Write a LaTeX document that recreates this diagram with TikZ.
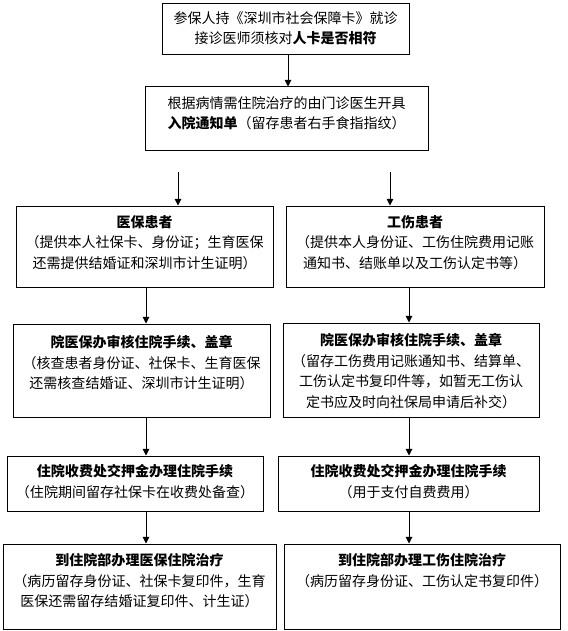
\documentclass[tikz,border=0pt]{standalone}
\usepackage{fontspec}
\setmainfont{Noto Sans CJK SC}
\usetikzlibrary{arrows.meta,fit}
\begin{document}
\begin{tikzpicture}[x=0.75pt,y=-0.75pt,
  box/.style={draw, line width=0.75pt, inner sep=0pt},
  txt/.style={font=\fontsize{10.5pt}{15.5pt}\selectfont, align=center, inner sep=0pt, anchor=north},
  arr/.style={line width=0.75pt, -{Triangle[length=5pt,width=5pt]}}
]
\useasboundingbox[fill=white] (0,0) rectangle (567,631);
% boxes
\node[box, fit={(162,4) (409,55)}] (b1) {};
\node[box, fit={(145,87) (428,151)}] (b2) {};
\node[box, fit={(16,206) (273,287)}] (b3) {};
\node[box, fit={(286,206) (544,287)}] (b4) {};
\node[box, fit={(13,324) (270,417)}] (b5) {};
\node[box, fit={(283,323) (539,417)}] (b6) {};
\node[box, fit={(7,456) (263,511)}] (b7) {};
\node[box, fit={(278,456) (539,511)}] (b8) {};
\node[box, fit={(3,544) (276,629)}] (b9) {};
\node[box, fit={(284,544) (560,629)}] (b10) {};
% texts
\node[txt] (t1) at (285.5,11) {参保人持《深圳市社会保障卡》就诊\\接诊医师须核对\textbf{人卡是否相符}};
\node[txt] (t2) at (286.5,96) {根据病情需住院治疗的由门诊医生开具\\\textbf{入院通知单}（留存患者右手食指指纹）};
\node[txt] (t3) at (144.5,215) {\textbf{医保患者}\\（提供本人社保卡、身份证；生育医保\\还需提供结婚证和深圳市计生证明）};
\node[txt] (t4) at (415,215) {\textbf{工伤患者}\\（提供本人身份证、工伤住院费用记账\\通知书、结账单以及工伤认定书等）};
\node[txt] (t5) at (141.5,335) {\textbf{院医保办审核住院手续、盖章}\\（核查患者身份证、社保卡、生育医保\\还需核查结婚证、深圳市计生证明）};
\node[txt] (t6) at (411,333) {\textbf{院医保办审核住院手续、盖章}\\（留存工伤费用记账通知书、结算单、\\工伤认定书复印件等，如暂无工伤认\\定书应及时向社保局申请后补交）};
\node[txt] (t7) at (135,464) {\textbf{住院收费处交押金办理住院手续}\\（住院期间留存社保卡在收费处备查）};
\node[txt] (t8) at (408.5,464) {\textbf{住院收费处交押金办理住院手续}\\（用于支付自费费用）};
\node[txt] (t9) at (139.5,553) {\textbf{到住院部办理医保住院治疗}\\（病历留存身份证、社保卡复印件，生育\\医保还需留存结婚证复印件、计生证）};
\node[txt] (t10) at (422,553) {\textbf{到住院部办理工伤住院治疗}\\（病历留存身份证、工伤认定书复印件）};
% arrows
\coordinate (c1) at (288,0);
\coordinate (cl) at (146,0);
\coordinate (cr) at (409,0);
\coordinate (s3) at (178,172);
\coordinate (s4) at (390,172);
\draw[arr] (b1.south -| c1) -- (b2.north -| c1);
\draw[arr] (s3) -- (s3 |- b3.north);
\draw[arr] (s4) -- (s4 |- b4.north);
\draw[arr] (b3.south -| cl) -- (b5.north -| cl);
\draw[arr] (b5.south -| cl) -- (b7.north -| cl);
\draw[arr] (b7.south -| cl) -- (b9.north -| cl);
\draw[arr] (b4.south -| cr) -- (b6.north -| cr);
\draw[arr] (b6.south -| cr) -- (b8.north -| cr);
\draw[arr] (b8.south -| cr) -- (b10.north -| cr);
\end{tikzpicture}
\end{document}
